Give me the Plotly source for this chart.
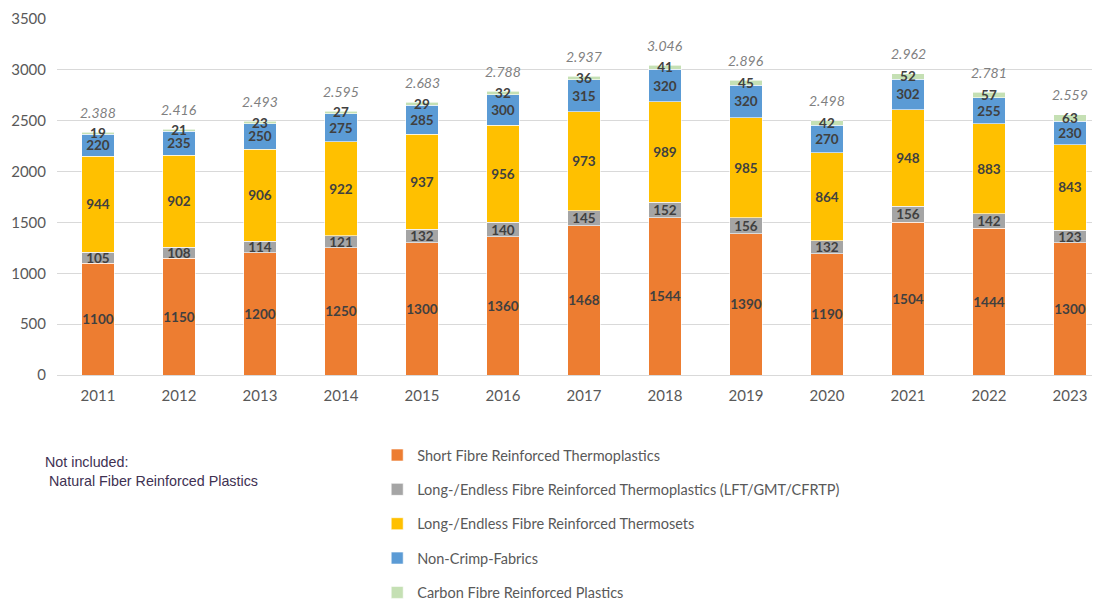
import plotly.graph_objects as go

# Data
years = ["2011", "2012", "2013", "2014", "2015", "2016", "2017",
         "2018", "2019", "2020", "2021", "2022", "2023"]
short_fibre = [1100, 1150, 1200, 1250, 1300, 1360, 1468, 1544, 1390, 1190, 1504, 1444, 1300]
long_thermoplastics = [105, 108, 114, 121, 132, 140, 145, 152, 156, 132, 156, 142, 123]
long_thermosets = [944, 902, 906, 922, 937, 956, 973, 989, 985, 864, 948, 883, 843]
non_crimp = [220, 235, 250, 275, 285, 300, 315, 320, 320, 270, 302, 255, 230]
carbon_fibre = [19, 21, 23, 27, 29, 32, 36, 41, 45, 42, 52, 57, 63]

series = [
    ("Short Fibre Reinforced Thermoplastics", short_fibre, "#ED7D31"),
    ("Long-/Endless Fibre Reinforced Thermoplastics (LFT/GMT/CFRTP)", long_thermoplastics, "#A5A5A5"),
    ("Long-/Endless Fibre Reinforced Thermosets", long_thermosets, "#FFC000"),
    ("Non-Crimp-Fabrics", non_crimp, "#5B9BD5"),
    ("Carbon Fibre Reinforced Plastics", carbon_fibre, "#C5E0B4"),
]

totals = [sum(v) for v in zip(short_fibre, long_thermoplastics, long_thermosets, non_crimp, carbon_fibre)]
# European thousands separator, as in the source ("2.388")
total_labels = [f"{t:,}".replace(",", ".") for t in totals]

fig = go.Figure()
for i, (name, vals, color) in enumerate(series):
    fig.add_trace(go.Bar(
        x=years, y=vals, name=name, legendgroup=f"g{i}",
        marker=dict(color=color, line=dict(color="white", width=0.6)),
        text=vals, textposition="inside", insidetextanchor="middle", textangle=0,
        textfont=dict(family="Lato", size=13.5, color="#404040", weight="bold"),
        width=0.4, cliponaxis=False,
    ))

# totals above each stack (x given as category index; numeric-looking
# category names are otherwise read as plain numbers)
for i, (tot, lab) in enumerate(zip(totals, total_labels)):
    fig.add_annotation(x=i, y=tot, text=lab, showarrow=False, yshift=20,
                       font=dict(family="Lato", size=14, color="#7F7F7F", style="italic"))

fig.add_annotation(xref="paper", yref="paper", x=-0.013, y=-0.215, xanchor="left", yanchor="top",
                   align="left", showarrow=False,
                   text="Not included:<br> Natural Fiber Reinforced Plastics",
                   font=dict(family="Liberation Sans", size=14.3, color="#403152"))

# page body adds an 8px margin, so the figure is offset to compensate;
# extra height below keeps the legend from pushing the plot up
fig.update_layout(
    width=1092, height=610,
    barmode="stack",
    plot_bgcolor="white", paper_bgcolor="white",
    margin=dict(l=49, r=0, t=11, b=243),
    uniformtext=dict(minsize=13, mode="show"),
    font=dict(family="Lato", size=15, color="#595959"),
    legend=dict(x=0.307, y=-0.180, xanchor="left", yanchor="top", traceorder="grouped",
                tracegroupgap=12.5, font=dict(family="Lato", size=14.5, color="#595959"),
                itemwidth=30),
    xaxis=dict(type="category", range=[-0.506, 12.37], showgrid=False, showline=False, ticks="",
               ticklabelstandoff=10, tickfont=dict(size=15, color="#595959")),
    yaxis=dict(range=[0, 3500], dtick=500, showgrid=True, gridcolor="#D9D9D9", gridwidth=1,
               zeroline=True, zerolinecolor="#D9D9D9", zerolinewidth=1, ticks="",
               ticklabelstandoff=10, tickfont=dict(size=15, color="#595959")),
)

fig.write_html("out.html")
